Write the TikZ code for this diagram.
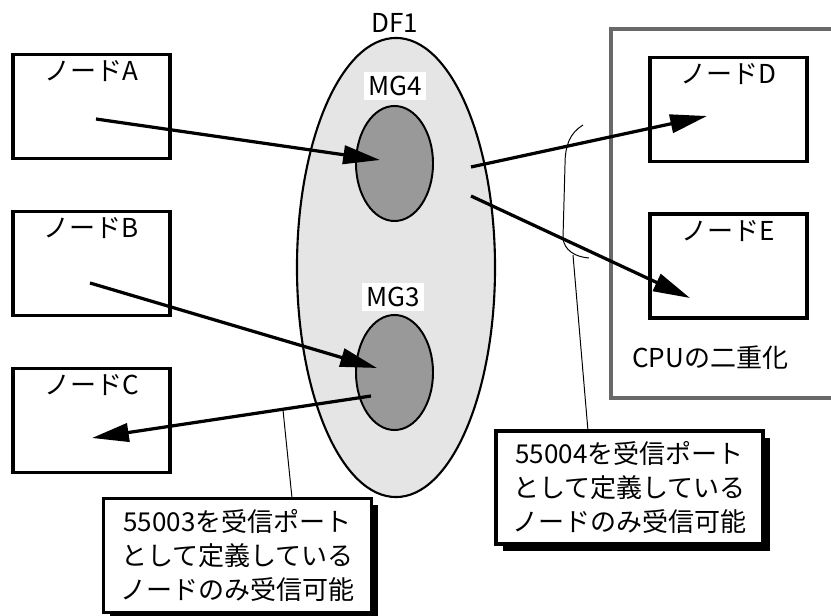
\documentclass[tikz,border=0pt]{standalone}
\usepackage{fontspec}
\setmainfont{Noto Sans CJK JP}
\usetikzlibrary{shapes.geometric,arrows.meta,positioning,shadows}
\definecolor{rahmengrau}{RGB}{105,105,105}
\tikzset{
  knoten/.style={draw, line width=2.4pt, minimum width=3.925cm, minimum height=2.6cm},
  gruppe/.style={ellipse, draw, line width=1.4pt, fill=black!40, minimum width=1.925cm, minimum height=2.875cm},
  etikett/.style={fill=white, inner sep=3pt},
  pfeil/.style={line width=2.3pt, -{Triangle[length=0.92cm,width=0.46cm]}},
  hinweis/.style={draw, fill=white, line width=2.4pt, align=center, minimum width=6.7cm, minimum height=2.85cm,
    general shadow={fill=black, shadow xshift=0.17cm, shadow yshift=-0.17cm}},
  fuehrung/.style={line width=0.7pt}
}
\begin{document}
\begin{tikzpicture}[x=0.025cm, y=-0.025cm, every node/.style={font=\fontsize{18.5pt}{24pt}\selectfont}]
    \useasboundingbox (0,0) rectangle (831,616);
    % Marco de la CPU
    \draw[rahmengrau, line width=2.6pt] (840,29) -- (611,29) -- (611,398) -- (840,398);
    \node[anchor=west, inner sep=0pt] (cpu) at (632,358) {CPUの二重化};
    % Dominio DF1 y grupos
    \node[ellipse, draw, line width=1.5pt, fill=black!10, minimum width=4.95cm, minimum height=11.475cm] (df) at (396,267.5) {};
    \node (dfname) at (395,23) {DF1};
    \node[gruppe] (mg4) at (394.5,163.5) {};
    \node[gruppe] (mg3) at (394.5,372.5) {};
    \node[etikett] (mg4name) at (395,86) {MG4};
    \node[etikett] (mg3name) at (393,297) {MG3};
    % Nodos
    \node[knoten] (nA) at (91.5,106.5) {};
    \node[knoten] (nB) at (91.5,263.5) {};
    \node[knoten] (nC) at (91.5,420.5) {};
    \node[knoten] (nD) at (728.5,109.5) {};
    \node[knoten] (nE) at (728.5,266) {};
    \node[below=2pt of nA.north] (tA) {ノードA};
    \node[below=2pt of nB.north] (tB) {ノードB};
    \node[below=2pt of nC.north] (tC) {ノードC};
    \node[below=2pt of nD.north] (tD) {ノードD};
    \node[below=2pt of nE.north] (tE) {ノードE};
    % Puntos de las flechas
    \coordinate (a0) at (96,119);
    \coordinate (b0) at (90,283);
    \coordinate (c0) at (92,438);
    \coordinate (d0) at (707,116);
    \coordinate (e0) at (690,298);
    \coordinate (mg4in) at (380,160);
    \coordinate (mg3in) at (377,368);
    \coordinate (mg3out) at (371,396);
    \coordinate (dfout1) at (471,167);
    \coordinate (dfout2) at (471,196);
    % Flechas
    \draw[pfeil] (a0) -- (mg4in);
    \draw[pfeil] (b0) -- (mg3in);
    \draw[pfeil] (mg3out) -- (c0);
    \draw[pfeil] (dfout1) -- (d0);
    \draw[pfeil] (dfout2) -- (e0);
    % Llave
    \draw[fuehrung] (583,125) .. controls (570,133) and (565,145) .. (565,165) -- (563,238)
        .. controls (564,250) and (575,257) .. (589,258);
    % Notas
    \node[hinweis] (note1) at (237.5,555.5) {55003を受信ポート\\として定義している\\ノードのみ受信可能};
    \node[hinweis, minimum width=6.675cm, minimum height=2.825cm] (note2) at (629.5,487.5) {55004を受信ポート\\として定義している\\ノードのみ受信可能};
    \coordinate (k1) at (283,410);
    \coordinate (k1end) at (292,498);
    \coordinate (k2) at (573,255);
    \coordinate (k2end) at (588,431);
    \draw[fuehrung] (k1) -- (k1end);
    \draw[fuehrung] (k2) -- (k2end);
\end{tikzpicture}
\end{document}
